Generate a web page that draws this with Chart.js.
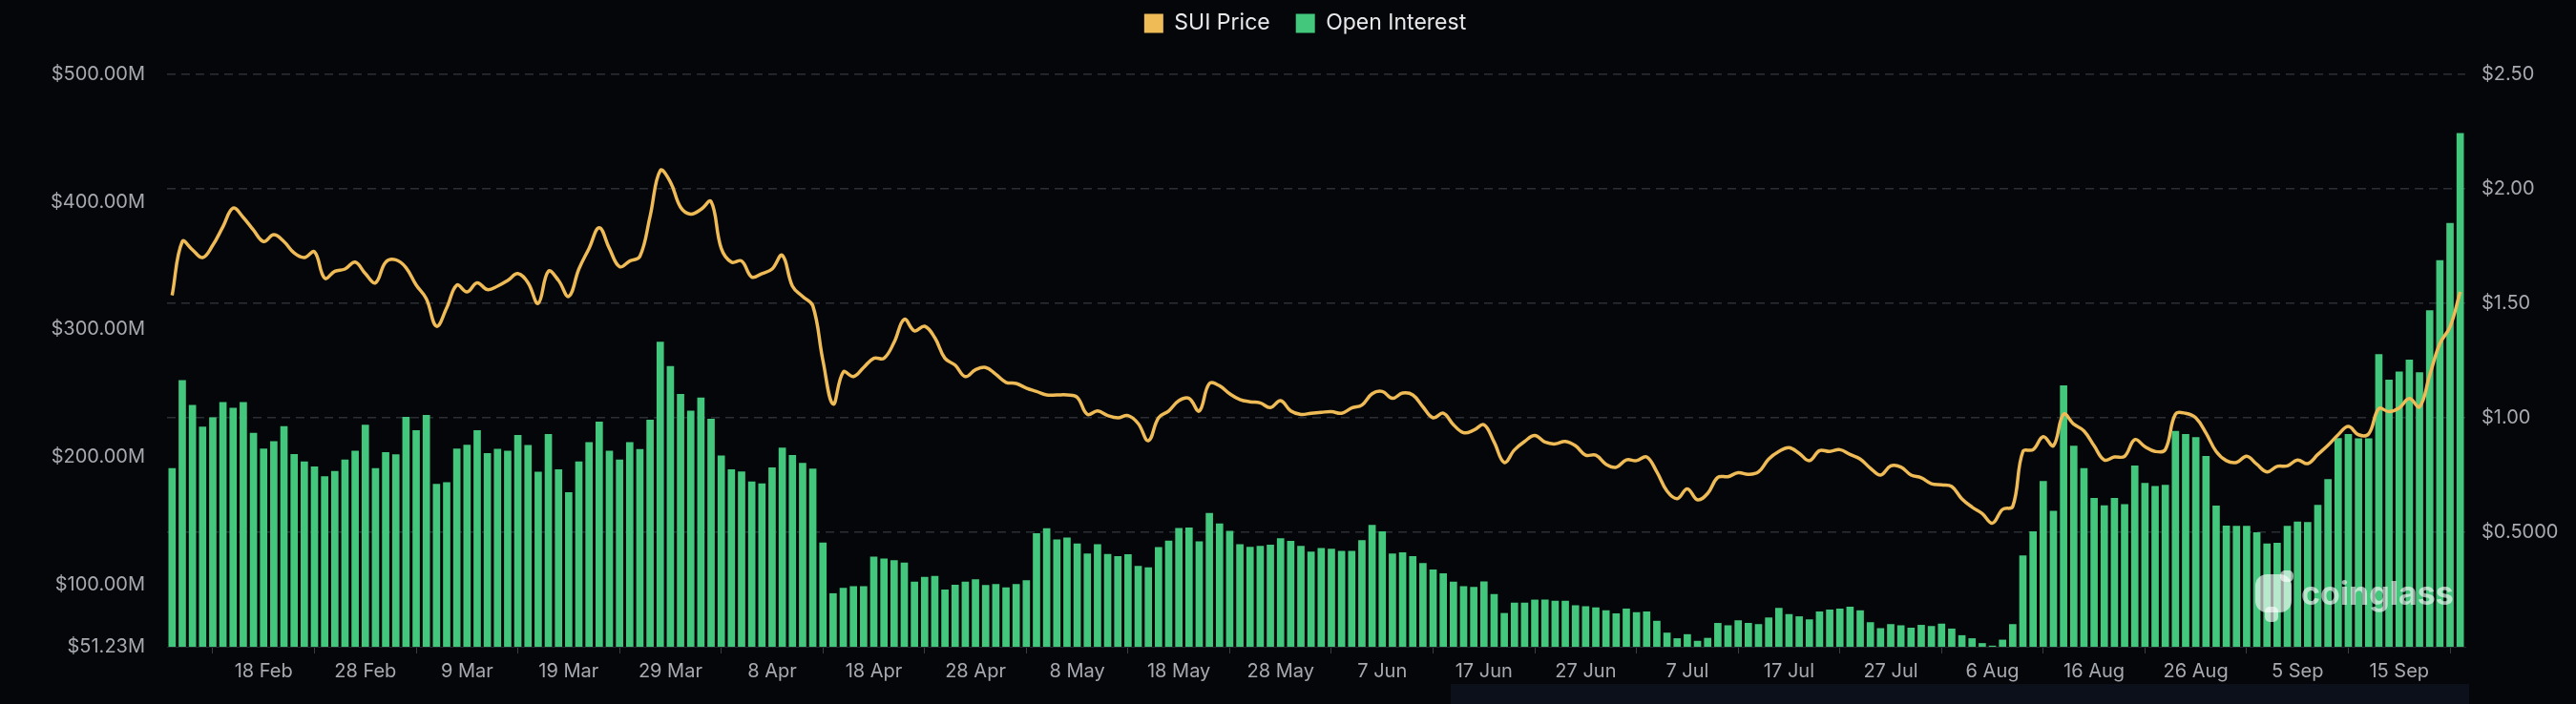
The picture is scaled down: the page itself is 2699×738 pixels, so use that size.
<!DOCTYPE html>
<html>
<head>
<meta charset="utf-8">
<script src="https://cdn.jsdelivr.net/npm/chart.js@4.4.1/dist/chart.umd.min.js"></script>
<style>
  html, body { margin: 0; padding: 0; background: #05060a; }
  #wrap { position: relative; width: 2699px; height: 738px; }
</style>
</head>
<body>
<div id="wrap"><canvas id="oi-canvas" width="2699" height="738"></canvas></div>
<script>
// daily points, 9 Feb 2024 .. 21 Sep 2024
const MONTHS = ["Jan", "Feb", "Mar", "Apr", "May", "Jun", "Jul", "Aug", "Sep", "Oct", "Nov", "Dec"];
const DAY_COUNT = 226;
const dayLabels = [];
for (let i = 0; i < DAY_COUNT; i++) {
  const d = new Date(Date.UTC(2024, 1, 9 + i));
  dayLabels.push(d.getUTCDate() + " " + MONTHS[d.getUTCMonth()]);
}

// open interest, millions USD
const openInterest = [
  191.3, 260.3, 240.8, 223.9, 231.2, 243.1, 238.5, 243.1, 219.0, 206.7,
  212.5, 224.2, 202.3, 196.5, 192.5, 184.9, 189.0, 198.0, 205.0, 225.4,
  191.3, 203.8, 202.1, 231.5, 221.0, 233.0, 179.0, 180.2, 206.7, 209.7,
  221.0, 203.0, 206.4, 205.0, 217.2, 209.4, 188.4,
  218.1, 190.4, 172.4, 196.5, 211.7, 227.7, 205.0, 198.0, 211.7, 206.2,
  229.2, 290.3, 271.4, 249.5, 236.4, 246.6, 230.0, 201.2, 190.4, 188.7,
  180.8, 179.4, 191.9, 207.3, 201.5, 195.4, 191.0, 133.0, 93.2, 97.5,
  98.7, 98.7, 122.0, 120.5, 119.1, 117.3, 102.2, 106.0,
  106.8, 96.1, 99.9, 102.2, 104.2, 99.6, 100.4, 97.8, 100.4, 103.4,
  140.3, 144.1, 135.4, 136.8, 132.2, 124.3, 131.6, 124.0, 122.3, 123.7,
  114.7, 113.5, 129.3, 134.5, 144.4, 144.7, 133.9, 156.1, 147.9, 142.1,
  131.6, 129.6, 130.4, 131.3, 136.3, 134.2, 130.4,
  125.8, 128.7, 128.1, 126.4, 126.4, 134.8, 146.7, 141.8, 124.3, 125.2,
  122.3, 116.8, 111.8, 108.9, 102.2, 98.7, 98.1, 102.5, 92.6, 77.7,
  85.9, 85.9, 88.2, 88.2, 87.3, 87.3, 83.8, 83.0, 82.1, 79.8,
  77.4, 81.2, 78.3, 78.9, 71.6, 62.3, 57.9, 61.1,
  55.9, 58.2, 69.9, 68.1, 71.9, 69.9, 69.0, 74.2, 81.8, 76.9,
  75.1, 72.8, 78.9, 80.4, 81.2, 82.7, 79.8, 70.4, 65.8, 69.0,
  68.1, 66.1, 68.4, 67.5, 69.3, 65.5, 60.3, 57.9, 54.1, 52.1,
  56.8, 69.0, 122.9, 141.8, 181.1, 157.8, 256.2,
  208.8, 191.3, 168.0, 162.2, 168.0, 163.1, 193.3, 179.7, 177.3, 178.2,
  220.4, 218.1, 215.5, 200.9, 161.9, 146.2, 146.0, 146.0, 140.9, 132.2,
  132.8, 146.0, 149.4, 149.1, 162.5, 182.6, 214.9, 218.1, 214.6, 214.6,
  280.7, 260.6, 267.0, 276.3, 266.4, 315.0, 354.4, 383.5, 454.0
];

// SUI price, USD
const suiPrice = [
  1.535, 1.77, 1.734, 1.70, 1.754, 1.835, 1.916, 1.875, 1.82, 1.77,
  1.80, 1.77, 1.72, 1.70, 1.725, 1.61, 1.64, 1.65, 1.68, 1.63,
  1.59, 1.68, 1.69, 1.656, 1.58, 1.52, 1.40, 1.48, 1.58, 1.55,
  1.59, 1.56, 1.575, 1.60, 1.63, 1.59, 1.50,
  1.64, 1.60, 1.53, 1.65, 1.74, 1.83, 1.74, 1.66, 1.685, 1.705,
  1.88, 2.08, 2.03, 1.92, 1.89, 1.91, 1.945, 1.74, 1.68, 1.685,
  1.615, 1.63, 1.65, 1.71, 1.575, 1.53, 1.49, 1.25, 1.06, 1.20,
  1.18, 1.22, 1.26, 1.26, 1.33, 1.43, 1.38, 1.40,
  1.35, 1.26, 1.23, 1.18, 1.21, 1.22, 1.19, 1.155, 1.15, 1.13,
  1.115, 1.10, 1.10, 1.10, 1.09, 1.015, 1.03, 1.01, 1.00, 1.01,
  0.975, 0.90, 1.00, 1.03, 1.075, 1.085, 1.03, 1.15, 1.14, 1.105,
  1.08, 1.07, 1.065, 1.045, 1.075, 1.03, 1.015,
  1.02, 1.024, 1.027, 1.02, 1.043, 1.056, 1.105, 1.115, 1.085, 1.108,
  1.10, 1.048, 1.00, 1.02, 0.97, 0.935, 0.946, 0.97, 0.894, 0.805,
  0.86, 0.897, 0.923, 0.894, 0.886, 0.897, 0.878, 0.837, 0.837, 0.797,
  0.784, 0.816, 0.813, 0.829, 0.764, 0.68, 0.647, 0.69,
  0.642, 0.67, 0.74, 0.743, 0.76, 0.753, 0.764, 0.82, 0.853, 0.87,
  0.845, 0.813, 0.857, 0.853, 0.861, 0.84, 0.82, 0.78, 0.75, 0.79,
  0.785, 0.75, 0.738, 0.712, 0.707, 0.70, 0.646, 0.61, 0.582, 0.54,
  0.60, 0.613, 0.853, 0.861, 0.918, 0.878, 1.016,
  0.972, 0.943, 0.878, 0.816, 0.829, 0.832, 0.905, 0.874, 0.853, 0.861,
  1.016, 1.02, 1.00, 0.934, 0.853, 0.813, 0.805, 0.832, 0.797, 0.764,
  0.788, 0.79, 0.816, 0.80, 0.84, 0.88, 0.926, 0.962, 0.926, 0.93,
  1.04, 1.027, 1.043, 1.084, 1.048, 1.186, 1.324, 1.397, 1.55
];

const oiTicks = [51.23, 100, 200, 300, 400, 500];
const priceTicks = [0.5, 1, 1.5, 2, 2.5];

const PRICE_COLOR = "#efbb56";
const OI_COLOR = "#43c77c";
const TICK_COLOR = "#a6a9b0";
const GRID_COLOR = "#2b2e35";

Chart.defaults.font.family = "Inter, 'Noto Sans', sans-serif";

// legend sits a bit right of centre and leaves room above the plot
const legendSpace = {
  id: "legendSpace",
  beforeInit(chart) {
    const fit = chart.legend.fit;
    chart.legend.fit = function () {
      fit.call(this);
      this.height = 92;
    };
  },
  afterLayout(chart) {
    chart.legend.left += 18;
    chart.legend.right += 18;
  },
};

const watermark = {
  id: "watermark",
  afterDatasetsDraw(chart) {
    const ctx = chart.ctx;
    const a = chart.chartArea;
    ctx.save();
    ctx.fillStyle = "rgba(255,255,255,0.62)";
    // little mascot blob
    const bx = a.right - 220, by = a.bottom - 80;
    ctx.beginPath();
    ctx.roundRect(bx, by + 4, 38, 40, 12);
    ctx.fill();
    ctx.beginPath();
    ctx.roundRect(bx + 10, by + 38, 14, 16, 5);
    ctx.fill();
    ctx.beginPath();
    ctx.roundRect(bx + 26, by, 14, 12, 5);
    ctx.fill();
    ctx.font = "bold 34px Inter, sans-serif";
    ctx.textBaseline = "middle";
    ctx.fillText("coinglass", a.right - 172, by + 26);
    ctx.restore();
  },
  afterDraw(chart) {
    const ctx = chart.ctx;
    const a = chart.chartArea;
    ctx.save();
    ctx.fillStyle = "#0b101b";
    ctx.fillRect(1520, chart.height - 21, a.right - 1520 + 4, 21);
    ctx.restore();
  },
};

function oiConfig() {
  return {
    type: "bar",
    data: {
      labels: dayLabels,
      datasets: [
        {
          type: "line",
          label: "SUI Price",
          data: suiPrice,
          yAxisID: "price",
          borderColor: PRICE_COLOR,
          backgroundColor: PRICE_COLOR,
          borderWidth: 3.5,
          pointRadius: 0,
          tension: 0.4,
          order: 0,
        },
        {
          label: "Open Interest",
          data: openInterest.map((v) => v * 1e6),
          yAxisID: "oi",
          backgroundColor: OI_COLOR,
          barPercentage: 0.72,
          categoryPercentage: 1.0,
          order: 1,
        },
      ],
    },
    options: {
      responsive: false,
      devicePixelRatio: 1,
      animation: false,
      layout: {
        padding: { top: -14, left: 0, right: 0, bottom: 0 },
      },
      plugins: {
        tooltip: { enabled: false },
        legend: {
          position: "top",
          labels: {
            color: "#e9e9ea",
            font: { size: 23 },
            boxWidth: 20,
            boxHeight: 20,
            padding: 27,
            generateLabels(chart) {
              const items = Chart.defaults.plugins.legend.labels.generateLabels(chart);
              items.forEach((it) => {
                it.lineWidth = 0;
                it.strokeStyle = "transparent";
              });
              return items;
            },
          },
        },
      },
      scales: {
        x: {
          offset: true,
          grid: {
            display: true,
            offset: true,
            drawOnChartArea: false,
            drawTicks: true,
            tickLength: 7,
            color: "#3a3d44",
          },
          border: { display: true, color: "#24272d" },
          ticks: {
            autoSkip: false,
            maxRotation: 0,
            color: TICK_COLOR,
            font: { size: 20 },
            padding: 7,
            callback: function (value, index) {
              return index % 10 === 9 ? this.getLabelForValue(value) : null;
            },
          },
          afterFit(scale) {
            scale.height = 60;
          },
        },
        oi: {
          type: "linear",
          position: "left",
          min: 51.23e6,
          max: 500e6,
          grid: { display: false, drawTicks: false },
          border: { display: false },
          ticks: {
            color: TICK_COLOR,
            font: { size: 20 },
            padding: 23,
            callback: (v) => "$" + (v / 1e6).toFixed(2) + "M",
          },
          afterBuildTicks(scale) {
            scale.ticks = oiTicks.map((v) => ({ value: v * 1e6 }));
          },
          afterFit(scale) {
            scale.width = 175;
          },
        },
        price: {
          type: "linear",
          position: "right",
          min: 0,
          max: 2.5,
          grid: {
            display: true,
            drawTicks: false,
            color: (c) => (c.tick && c.tick.value === 0 ? "rgba(0,0,0,0)" : GRID_COLOR),
            lineWidth: 1.5,
          },
          border: { display: false, dash: [9, 6] },
          ticks: {
            color: TICK_COLOR,
            font: { size: 20 },
            padding: 17,
            callback: (v) => (v === 0 ? "" : v === 0.5 ? "$0.5000" : "$" + v.toFixed(2)),
          },
          afterBuildTicks(scale) {
            scale.ticks = [0].concat(priceTicks).map((v) => ({ value: v }));
          },
          afterFit(scale) {
            scale.width = 116;
          },
        },
      },
    },
    plugins: [legendSpace, watermark],
  };
}

const ctx = document.getElementById("oi-canvas").getContext("2d");
window.oiChart = new Chart(ctx, oiConfig());
</script>
</body>
</html>
